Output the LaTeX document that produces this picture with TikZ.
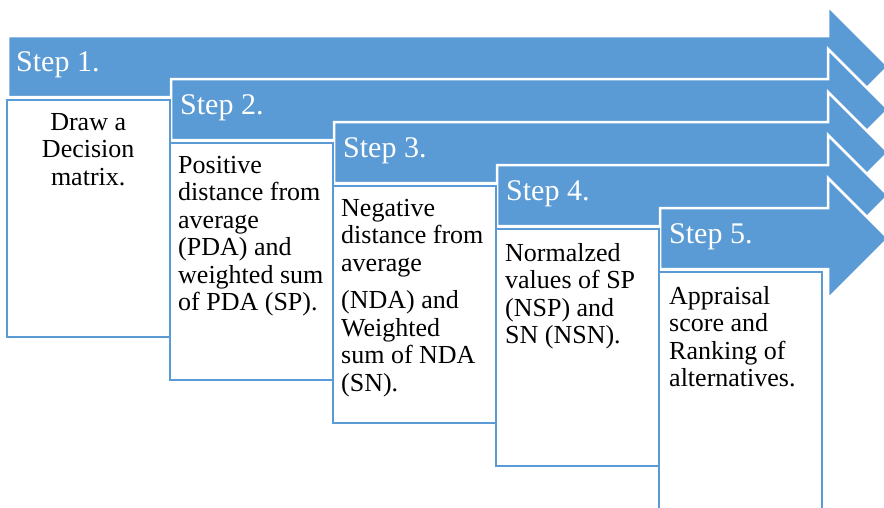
\documentclass[tikz,border=0pt]{standalone}
\usepackage{fontspec}
\setmainfont{Liberation Serif}
\newfontfamily\timesfont{Liberation Serif}
\definecolor{stepblue}{HTML}{5B9BD5}
\tikzset{
  arrowshape/.style={fill=stepblue, draw=white, line width=2.5pt, line join=miter},
  boxshape/.style={fill=white, draw=stepblue, line width=1.5pt},
  steplabel/.style={anchor=base west, inner sep=0pt, text=white, font=\timesfont\fontsize{30}{32}\selectfont},
  bodytext/.style={anchor=base west, inner sep=0pt, text=black, font=\timesfont},
}
\newcommand{\bodypar}[1]{\parbox[t]{160pt}{\timesfont\fontsize{26}{27.5}\selectfont\raggedright #1}}
\newcommand{\bodyparc}[1]{\parbox[t]{162pt}{\timesfont\fontsize{26}{27.5}\selectfont\centering #1}}
\begin{document}
\begin{tikzpicture}[x=1pt,y=-1pt]
\clip (0,0) rectangle (884,507);
\fill[white] (0,0) rectangle (884,507);
% arrows
\filldraw[arrowshape] (8,36) -- (828,36) -- (828,6) -- (888.5,66.5) -- (828,127) -- (828,97) -- (8,97) -- cycle;
\filldraw[arrowshape] (171,79) -- (828,79) -- (828,49) -- (888.5,109.5) -- (828,170) -- (828,140) -- (171,140) -- cycle;
\filldraw[arrowshape] (334,122) -- (828,122) -- (828,92) -- (888.5,152.5) -- (828,213) -- (828,183) -- (334,183) -- cycle;
\filldraw[arrowshape] (497,165) -- (828,165) -- (828,135) -- (888.5,195.5) -- (828,256) -- (828,226) -- (497,226) -- cycle;
\filldraw[arrowshape] (660,208) -- (828,208) -- (828,178) -- (888.5,238.5) -- (828,299) -- (828,269) -- (660,269) -- cycle;
% boxes
\filldraw[boxshape] (7,100) rectangle (170,337);
\filldraw[boxshape] (170,143) rectangle (333,380);
\filldraw[boxshape] (333,186) rectangle (496,423);
\filldraw[boxshape] (496,229) rectangle (659,466);
\filldraw[boxshape] (659,272) rectangle (822,509);
% step labels
\node[steplabel] (s1) at (16,71) {Step 1.};
\node[steplabel] (s2) at (180,114) {Step 2.};
\node[steplabel] (s3) at (343,157) {Step 3.};
\node[steplabel] (s4) at (506,200) {Step 4.};
\node[steplabel] (s5) at (669,243) {Step 5.};
% body texts
\node[bodytext] (t1) at (7,130) {\bodyparc{Draw a\\Decision\\matrix.}};
\node[bodytext] (t2) at (178,173) {\bodypar{Positive\\distance from\\average\\(PDA) and\\weighted sum\\of PDA (SP).}};
\node[bodytext] (t3) at (341,216) {\bodypar{Negative\\distance from\\average\\[10pt](NDA) and\\Weighted\\sum of NDA\\(SN).}};
\node[bodytext] (t4) at (505,261) {\bodypar{Normalzed\\values of SP\\(NSP) and\\SN (NSN).}};
\node[bodytext] (t5) at (669,304) {\bodypar{Appraisal\\score and\\Ranking of\\alternatives.}};
\end{tikzpicture}
\end{document}
